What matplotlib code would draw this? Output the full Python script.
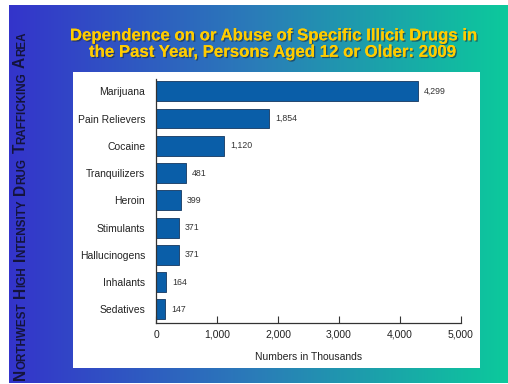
import numpy as np
import matplotlib.pyplot as plt
from matplotlib.colors import LinearSegmentedColormap
import matplotlib.patheffects as pe


# drug categories and counts (thousands), top to bottom
drugs = ['Marijuana', 'Pain Relievers', 'Cocaine', 'Tranquilizers', 'Heroin',
         'Stimulants', 'Hallucinogens', 'Inhalants', 'Sedatives']
counts = [4299, 1854, 1120, 481, 399, 371, 371, 164, 147]

xticks = [0, 1000, 2000, 3000, 4000, 5000]

title = 'Dependence on or Abuse of Specific Illicit Drugs in\nthe Past Year, Persons Aged 12 or Older: 2009'

# side banner, written as (letter, rest) pairs for small caps
banner = [('N', 'ORTHWEST'), ('H', 'IGH'), ('I', 'NTENSITY'), ('D', 'RUG'),
          ('T', 'RAFFICKING'), ('A', 'REA')]


plt.rcParams['font.family'] = ['Liberation Sans', 'DejaVu Sans']

W, H = 508, 384
fig = plt.figure(figsize=(W / 100, H / 100), dpi=100, facecolor='white')


#gradient background

bg = fig.add_axes([9 / W, 1 / H, (W - 9) / W, (H - 6) / H])
cmap = LinearSegmentedColormap.from_list('bg', ['#3434CB', '#2A7DB8', '#0CC99C'])
grad = np.linspace(0, 1, 256).reshape(1, -1)
bg.imshow(grad, aspect='auto', cmap=cmap, extent=[0, 1, 0, 1])
bg.set_axis_off()


#white panel behind the chart

panel = fig.add_axes([73 / W, 1 - 368 / H, (480 - 73) / W, (368 - 72) / H])
panel.set_facecolor('white')
panel.set_xticks([])
panel.set_yticks([])
for s in panel.spines.values():
    s.set_visible(False)


#title with a drop shadow

fig.text(272 / W, 1 - 44 / H, title, ha='center', va='center', fontsize=12.1,
         fontweight='bold', color='#FFCC00', linespacing=1.12,
         path_effects=[pe.withSimplePatchShadow(offset=(1, -1), shadow_rgbFace='#1a2a40', alpha=0.6),
                       pe.Normal()])


#bar chart

ax = fig.add_axes([156.3 / W, 1 - 322.7 / H, 304.4 / W, 244 / H])
ax.set_facecolor('none')
y = np.arange(len(drugs))
ax.barh(y, counts, height=0.73, color='#0A5EA8', edgecolor='#23476F', linewidth=0.7)

for yi, c in zip(y, counts):
    ax.text(c + 100, yi, f'{c:,}', va='center', ha='left', fontsize=6.3, color='#333333')

ax.set_ylim(8.49, -0.46)
ax.set_yticks(y)
ax.set_yticklabels(drugs, fontsize=7.5, color='#222222')
ax.tick_params(axis='y', length=0, pad=8)

ax.set_xlim(0, 5000)
ax.set_xticks(xticks)
ax.set_xticklabels([f'{t:,}' for t in xticks], fontsize=7.5, color='#222222')
ax.tick_params(axis='x', direction='in', length=5, width=0.8, color='#333333', pad=5)
ax.set_xlabel('Numbers in Thousands', fontsize=7.5, color='#222222', labelpad=9)

for s in ['top', 'right']:
    ax.spines[s].set_visible(False)
for s in ['left', 'bottom']:
    ax.spines[s].set_color('#333333')
    ax.spines[s].set_linewidth(0.9)


#rotated small-caps banner on the left, built piece by piece

renderer = fig.canvas.get_renderer()
bx = 25 / W
by = 4 / H
big, small = 11.2, 8.4
for first, rest in banner:
    for txt, size in [(first, big), (rest, small)]:
        t = fig.text(bx, by, txt, rotation=90, rotation_mode='anchor', ha='left',
                     va='baseline', fontsize=size, fontweight='bold', color='#14143C')
        ext = t.get_window_extent(renderer)
        by += ext.height / H
    by += 4.5 / H


plt.savefig('out.png', dpi=100, facecolor='white')
